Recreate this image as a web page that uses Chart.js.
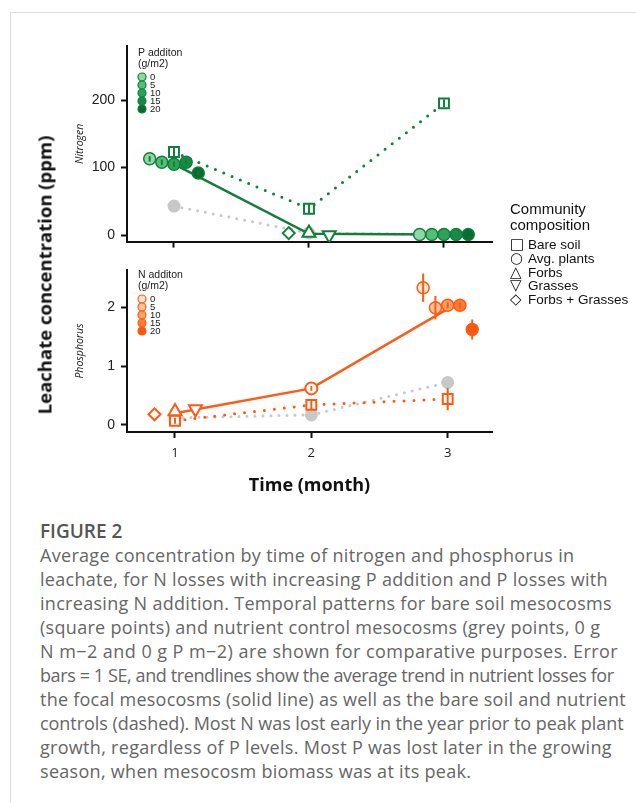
<!DOCTYPE html>
<html>
<head>
<meta charset="utf-8">
<script src="https://cdn.jsdelivr.net/npm/chart.js@4.4.1/dist/chart.umd.min.js"></script>
<style>
  html, body { margin: 0; padding: 0; background: #fff; }
  #page { position: relative; width: 636px; height: 803px; overflow: hidden; }
  .frame-top { position: absolute; left: 10px; top: 12px; right: 0; height: 1px; background: #dcdcdc; }
  .frame-left { position: absolute; left: 10px; top: 12px; bottom: 0; width: 1px; background: #dcdcdc; }
  canvas { position: absolute; left: 0; }
  #ylab {
    position: absolute; left: 44px; top: 275px;
    transform: translate(-50%, -50%) rotate(-90deg);
    font: bold 18.5px 'Open Sans', sans-serif; color: #111; white-space: nowrap;
  }
  #legend { position: absolute; left: 510px; top: 201px; font-family: 'Liberation Sans', Arial, sans-serif; color: #111; white-space: nowrap; }
  #legend .ttl { font-size: 15px; line-height: 16px; }
  #legend .items { margin-top: 5px; font-size: 13.5px; line-height: 12.75px; }
  #legend .g { display: inline-block; width: 18px; font-family: 'DejaVu Sans'; font-size: 15px; font-weight: bold; }
  #caption { position: absolute; left: 40px; top: 519px; width: 596px; font-family: 'Open Sans', sans-serif; }
  #caption .fig { font-size: 19px; line-height: 24px; font-weight: 600; color: #555; }
  #caption .txt div { font-size: 18px; line-height: 24px; color: #666; white-space: nowrap; letter-spacing: 0.3px; }
</style>
</head>
<body>
<div id="page">
  <div class="frame-top"></div>
  <div class="frame-left"></div>
  <canvas id="nChart" width="520" height="256" style="top:0"></canvas>
  <canvas id="pChart" width="520" height="260" style="top:250px"></canvas>
  <div id="ylab">Leachate concentration (ppm)</div>
  <div id="legend">
    <div class="ttl">Community<br>composition</div>
    <div class="items" id="legendItems"></div>
  </div>
  <div id="caption">
    <div class="fig">FIGURE 2</div>
    <div class="txt">
      <div>Average concentration by time of nitrogen and phosphorus in</div>
      <div>leachate, for N losses with increasing P addition and P losses with</div>
      <div>increasing N addition. Temporal patterns for bare soil mesocosms</div>
      <div>(square points) and nutrient control mesocosms (grey points, 0 g</div>
      <div style="letter-spacing:0.45px">N m−2 and 0 g P m−2) are shown for comparative purposes. Error</div>
      <div style="letter-spacing:-0.4px">bars = 1 SE, and trendlines show the average trend in nutrient losses for</div>
      <div style="letter-spacing:0.25px">the focal mesocosms (solid line) as well as the bare soil and nutrient</div>
      <div style="letter-spacing:-0.05px">controls (dashed). Most N was lost early in the year prior to peak plant</div>
      <div>growth, regardless of P levels. Most P was lost later in the growing</div>
      <div>season, when mesocosm biomass was at its peak.</div>
    </div>
  </div>
</div>
<script>
  // ------------------------------ Data ----------------------------------
  const MONTHS = [1, 2, 3];
  const LEVELS = [0, 5, 10, 15, 20];
  const COMPOSITIONS = ['Bare soil', 'Avg. plants', 'Forbs', 'Grasses', 'Forbs + Grasses'];
  const COMP_GLYPHS = ['□', '○', '△', '▽', '◇'];

  // Nitrogen (ppm), P addition levels
  const N_TICKS = [0, 100, 200];
  const N_LEVEL_M1 = [113, 108, 105, 108, 92];
  const N_LEVEL_M1_SE = [4, 4, 4, 4, 3];
  const N_LEVEL_M3 = [1, 1, 1, 1, 1];
  const N_AVG = [105, 2, 1];
  const N_BARE = [123, 39, 195];
  const N_BARE_SE = [7, 8, 6];
  const N_CTRL = [43, 3, 1];
  const N_COMP_MONTH = 2;
  const N_FORBS = 3;
  const N_GRASSES = 0;
  const N_FORBS_GRASSES = 3;

  // Phosphorus (ppm), N addition levels
  const P_TICKS = [0, 1, 2];
  const P_LEVEL_M3 = [2.33, 1.99, 2.03, 2.03, 1.62];
  const P_LEVEL_M3_SE = [0.24, 0.2, 0.05, 0.05, 0.17];
  const P_AVG = [0.2, 0.62, 1.97];
  const P_AVG_SE = [0, 0.04, 0];
  const P_BARE = [0.07, 0.34, 0.44];
  const P_BARE_SE = [0.05, 0.08, 0.19];
  const P_CTRL = [0.12, 0.17, 0.72];
  const P_COMP_MONTH = 1;
  const P_FORBS = 0.23;
  const P_GRASSES = 0.27;
  const P_FORBS_GRASSES = 0.18;

  // ----------------------------- Styling --------------------------------
  const DODGE = [-0.18, -0.09, 0, 0.09, 0.18];
  const COMP_DODGE = { forbs: 0, grasses: 0.15, forbsGrasses: -0.15 };
  const COL = {
    green: { fills: ['#90d7a4', '#53be75', '#2ca458', '#178b44', '#0c6b31'], stroke: '#10803a', line: '#157c3b' },
    orange: { fills: ['#ffe3d0', '#ffc39e', '#ffa063', '#ff7d33', '#f55810'], stroke: '#ff5a12', line: '#ff5a16' },
    grey: '#c8c8c8',
    axis: '#111',
    text: '#222',
  };

  // ----------------------------- Plugins --------------------------------
  const errorBars = {
    id: 'errorBars',
    afterDatasetDraw(chart, args) {
      const ds = chart.data.datasets[args.index];
      if (!ds.errorBars) return;
      const ctx = chart.ctx;
      const ys = chart.scales.y;
      ctx.save();
      ctx.strokeStyle = ds.errColor || ds.pointBorderColor;
      ctx.lineWidth = 2;
      args.meta.data.forEach((pt, i) => {
        const d = ds.data[i];
        if (!d || !d.e) return;
        ctx.beginPath();
        ctx.moveTo(pt.x, ys.getPixelForValue(d.y - d.e));
        ctx.lineTo(pt.x, ys.getPixelForValue(d.y + d.e));
        ctx.stroke();
      });
      ctx.restore();
    },
  };

  const levelLegend = {
    id: 'levelLegend',
    afterDraw(chart, args, o) {
      if (!o || !o.title) return;
      const { ctx, chartArea } = chart;
      const x = chartArea.left + 11;
      ctx.save();
      ctx.textBaseline = 'middle';
      ctx.fillStyle = COL.text;
      ctx.font = '10.5px "Liberation Sans", Arial';
      o.title.forEach((t, i) => ctx.fillText(t, x, chartArea.top + o.y0 + i * 11.5));
      ctx.font = '9.5px "Liberation Sans", Arial';
      o.labels.forEach((lab, i) => {
        const y = chartArea.top + o.y0 + 24 + i * 8;
        ctx.beginPath();
        ctx.arc(x + 4, y, 4, 0, Math.PI * 2);
        ctx.fillStyle = o.fills[i];
        ctx.fill();
        ctx.strokeStyle = o.stroke;
        ctx.lineWidth = 1.2;
        ctx.stroke();
        ctx.fillStyle = COL.text;
        ctx.fillText(String(lab), x + 12, y);
      });
      ctx.restore();
    },
  };

  // ----------------------------- Builders -------------------------------
  function series(vals, se) {
    return MONTHS.map((m, i) => ({ x: m, y: vals[i], e: se ? se[i] : 0 }));
  }

  function trendLine(vals, color, dash, width, order) {
    return {
      data: series(vals), showLine: true, borderColor: color, borderWidth: width,
      borderDash: dash, borderCapStyle: 'round', pointRadius: 0, order,
    };
  }

  function levelSets(groups, pal) {
    return LEVELS.map((lv, i) => ({
      label: 'level ' + lv,
      data: groups.map((g) => ({ x: g.month + DODGE[i], y: g.vals[i], e: g.se ? g.se[i] : 0 })),
      pointStyle: 'circle', pointRadius: 6, pointBorderWidth: 1.5,
      pointBackgroundColor: pal.fills[i], pointBorderColor: pal.stroke,
      errorBars: true, errColor: pal.stroke, order: 1,
    }));
  }

  function marker(points, style, radius, color, rotation, order) {
    return {
      data: points, pointStyle: style, pointRadius: radius, pointRotation: rotation || 0,
      pointBackgroundColor: '#fff', pointBorderColor: color, pointBorderWidth: 2,
      errorBars: true, errColor: color, order: order || 2,
    };
  }

  function compSets(month, forbs, grasses, fg, color) {
    return [
      marker([{ x: month + COMP_DODGE.forbsGrasses, y: fg }], 'rectRot', 6, color),
      marker([{ x: month + COMP_DODGE.forbs, y: forbs }], 'triangle', 7.5, color),
      marker([{ x: month + COMP_DODGE.grasses, y: grasses }], 'triangle', 7.5, color, 180),
    ];
  }

  function controlSet(vals) {
    return {
      data: series(vals), showLine: true, borderColor: COL.grey, borderWidth: 3,
      borderDash: [0, 8], borderCapStyle: 'round',
      pointRadius: 6.5, pointBackgroundColor: COL.grey, pointBorderWidth: 0, order: 6,
    };
  }

  function bareSet(vals, se, color, dash) {
    return {
      data: series(vals, se), showLine: true, borderColor: color, borderWidth: 3,
      borderDash: dash, borderCapStyle: 'round',
      pointStyle: 'rect', pointRadius: 7, pointBackgroundColor: '#fff',
      pointBorderColor: color, pointBorderWidth: 2,
      errorBars: true, errColor: color, order: 3,
    };
  }

  function axisCommon() {
    return {
      type: 'linear',
      grid: { display: true, drawOnChartArea: false, drawTicks: true, tickLength: 6, tickWidth: 2, tickColor: COL.axis },
      border: { display: true, color: COL.axis, width: 2 },
    };
  }

  function buildOptions(cfg) {
    return {
      responsive: false,
      animation: false,
      layout: { padding: { left: 60, top: cfg.padTop, right: 28, bottom: 0 } },
      scales: {
        x: Object.assign(axisCommon(), {
          min: cfg.xMin, max: cfg.xMax,
          afterBuildTicks: (s) => { s.ticks = MONTHS.map((v) => ({ value: v })); },
          afterFit: (s) => { s.height = cfg.xHeight; },
          ticks: {
            display: cfg.xLabels, color: COL.text, padding: 7,
            font: { family: 'Open Sans', size: 13 },
          },
          title: {
            display: !!cfg.xTitle, text: cfg.xTitle || '', color: COL.axis,
            font: { family: 'Open Sans', size: 18, weight: 'bold' },
            padding: { top: 0, bottom: 13 },
          },
        }),
        y: Object.assign(axisCommon(), {
          min: cfg.yMin, max: cfg.yMax,
          afterBuildTicks: (s) => { s.ticks = cfg.yTicks.map((v) => ({ value: v })); },
          afterFit: (s) => { s.width = 67; },
          ticks: { color: COL.text, padding: 6, font: { family: 'Liberation Sans', size: 14 } },
          title: {
            display: true, text: cfg.yTitle, color: COL.text,
            font: { family: 'Open Sans', size: 10.5, style: 'italic' },
            padding: { top: 14, bottom: 0 },
          },
        }),
      },
      plugins: {
        legend: { display: false },
        tooltip: { enabled: false },
        levelLegend: cfg.legend,
      },
    };
  }

  // ----------------------------- Charts ---------------------------------
  new Chart(document.getElementById('nChart'), {
    type: 'scatter',
    data: {
      datasets: [
        controlSet(N_CTRL),
        bareSet(N_BARE, N_BARE_SE, COL.green.stroke, [0, 9]),
        trendLine(N_AVG, COL.green.line, [], 2.5, 4),
        ...compSets(N_COMP_MONTH, N_FORBS, N_GRASSES, N_FORBS_GRASSES, COL.green.stroke),
        ...levelSets([
          { month: 1, vals: N_LEVEL_M1, se: N_LEVEL_M1_SE },
          { month: 3, vals: N_LEVEL_M3 },
        ], COL.green),
      ],
    },
    options: buildOptions({
      padTop: 46, xMin: 0.652, xMax: 3.356, xHeight: 14, xLabels: false,
      yMin: -9.6, yMax: 280, yTicks: N_TICKS, yTitle: 'Nitrogen',
      legend: { title: ['P additon', '(g/m2)'], labels: LEVELS, fills: COL.green.fills, stroke: COL.green.stroke, y0: 7 },
    }),
    plugins: [errorBars, levelLegend],
  });

  new Chart(document.getElementById('pChart'), {
    type: 'scatter',
    data: {
      datasets: [
        controlSet(P_CTRL),
        bareSet(P_BARE, P_BARE_SE, COL.orange.stroke, [0, 10]),
        trendLine(P_AVG, COL.orange.line, [], 2.5, 4),
        marker([{ x: 2, y: P_AVG[1], e: P_AVG_SE[1] }], 'circle', 6, COL.orange.stroke),
        ...compSets(P_COMP_MONTH, P_FORBS, P_GRASSES, P_FORBS_GRASSES, COL.orange.stroke),
        ...levelSets([{ month: 3, vals: P_LEVEL_M3, se: P_LEVEL_M3_SE }], COL.orange),
      ],
    },
    options: buildOptions({
      padTop: 20, xMin: 0.648, xMax: 3.325, xHeight: 78, xLabels: true, xTitle: 'Time (month)',
      yMin: -0.12, yMax: 2.63, yTicks: P_TICKS, yTitle: 'Phosphorus',
      legend: { title: ['N additon', '(g/m2)'], labels: LEVELS, fills: COL.orange.fills, stroke: COL.orange.stroke, y0: 5 },
    }),
    plugins: [errorBars, levelLegend],
  });

  // Community composition legend
  document.getElementById('legendItems').innerHTML = COMPOSITIONS
    .map((c, i) => '<div><span class="g">' + COMP_GLYPHS[i] + '</span>' + c + '</div>')
    .join('');
</script>
</body>
</html>
